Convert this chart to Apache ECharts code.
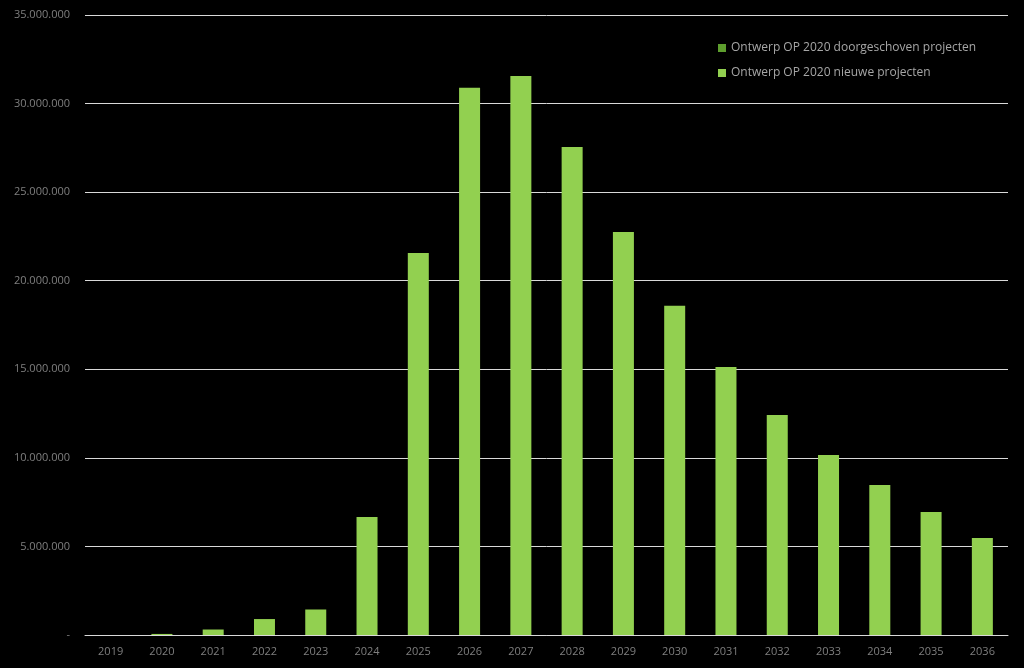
<!DOCTYPE html>
<html>
<head>
<meta charset="utf-8">
<script src="https://cdn.jsdelivr.net/npm/echarts@6/dist/echarts.min.js"></script>
<style>
html,body{margin:0;padding:0;background:#000;}
#c{width:1024px;height:668px;}
</style>
</head>
<body>
<div id="c"></div>
<script>
const categories = ['2019','2020','2021','2022','2023','2024','2025','2026','2027','2028','2029','2030','2031','2032','2033','2034','2035','2036'];
const doorgeschoven = [0,0,0,0,0,0,0,0,0,0,0,0,0,0,0,0,0,0];
const nieuwe = [0,60000,310000,900000,1440000,6660000,21570000,30900000,31560000,27550000,22750000,18580000,15130000,12420000,10160000,8470000,6950000,5480000];
const seriesNames = ['Ontwerp OP 2020 doorgeschoven projecten','Ontwerp OP 2020 nieuwe projecten'];

function fmt(v){
  if (v === 0) return '-';
  return String(v).replace(/\B(?=(\d{3})+(?!\d))/g, '.');
}

const chart = echarts.init(document.getElementById('c'));
chart.setOption({
  backgroundColor: '#000000',
  animation: false,
  textStyle: {fontFamily: 'Open Sans'},
  grid: {left: 85, right: 16, top: 15, bottom: 33},
  legend: {
    orient: 'vertical',
    left: 713,
    top: 37,
    itemWidth: 8,
    itemHeight: 8,
    itemGap: 13,
    icon: 'rect',
    textStyle: {color: '#a6a6a6', fontSize: 12, fontFamily: 'Open Sans'},
    data: seriesNames
  },
  xAxis: {
    type: 'category',
    data: categories,
    axisLine: {show: true, lineStyle: {color: '#d9d9d9', width: 1}},
    axisTick: {show: false},
    axisLabel: {color: '#7f7f7f', fontSize: 11, margin: 11}
  },
  yAxis: {
    type: 'value',
    min: 0,
    max: 35000000,
    interval: 5000000,
    axisLine: {show: false},
    axisTick: {show: false},
    splitLine: {lineStyle: {color: '#d9d9d9', width: 1}},
    axisLabel: {color: '#7f7f7f', fontSize: 11, margin: 15, formatter: fmt}
  },
  series: [
    {
      name: seriesNames[0],
      type: 'bar',
      stack: 'a',
      data: doorgeschoven,
      barWidth: 21,
      itemStyle: {color: '#5e9e2e'}
    },
    {
      name: seriesNames[1],
      type: 'bar',
      stack: 'a',
      data: nieuwe,
      barWidth: 21,
      itemStyle: {color: '#92d050'}
    }
  ]
});
</script>
</body>
</html>
